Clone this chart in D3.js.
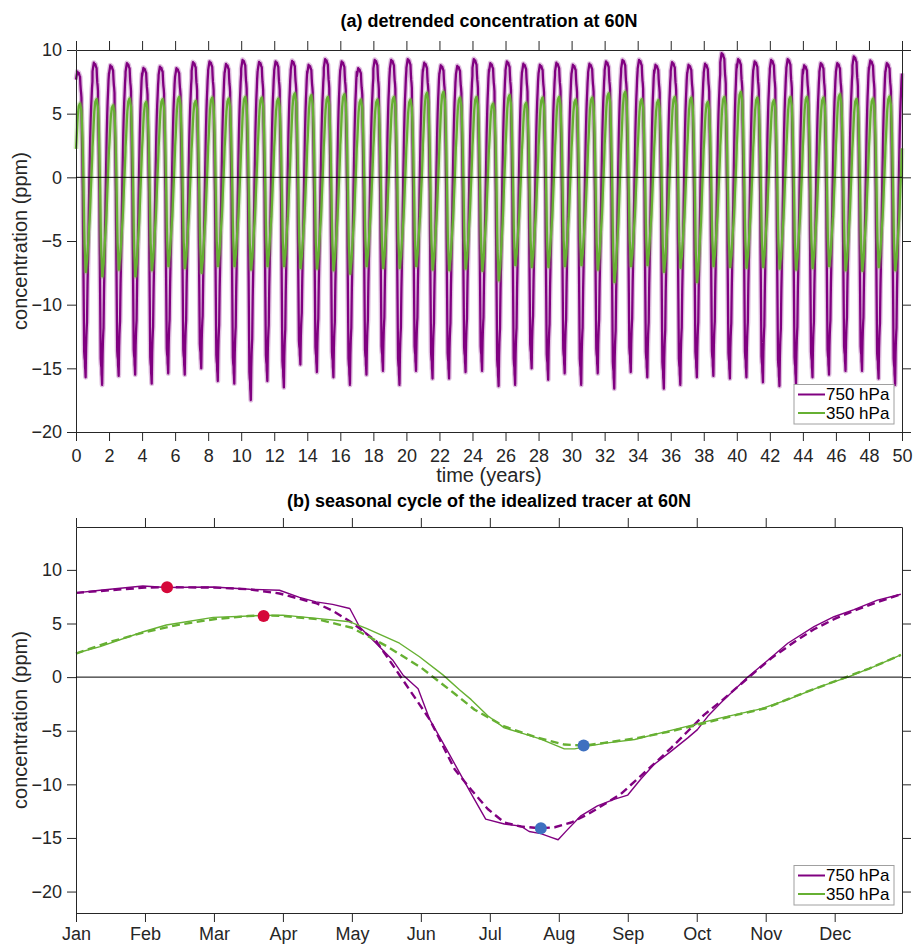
<!DOCTYPE html>
<html>
<head>
<meta charset="utf-8">
<script src="https://cdn.jsdelivr.net/npm/d3@7"></script>
<style>
  body { margin: 0; background: #fff; }
  svg text { font-family: "Liberation Sans", Arial, Helvetica, sans-serif; }
  .axis path, .axis line { stroke: #262626; stroke-width: 1; }
  .axis text { fill: #262626; font-size: 18px; }
</style>
</head>
<body>
<div id="chart"></div>
<script>
// panel (a): yearly maximum / minimum of each level
var peak750 = [8.3, 9.0, 8.8, 8.97, 8.6, 8.7, 8.57, 9.05, 9.1, 8.9,
               9.23, 9.07, 9.1, 9.15, 8.84, 9.29, 9.1, 8.57, 9.23, 9.23,
               9.29, 9.0, 8.8, 8.76, 9.29, 8.97, 9.1, 8.92, 8.84, 9.0,
               8.84, 8.92, 9.1, 9.23, 9.23, 8.84, 9.05, 8.84, 8.92, 9.76,
               9.29, 9.1, 9.23, 9.29, 8.8, 8.97, 8.97, 9.5, 9.18, 8.97];
var trough750 = [-15.7, -16.3, -15.6, -15.5, -16.2, -15.4, -15.5, -15.0, -16.0, -16.2,
                 -17.5, -16.0, -16.5, -14.7, -15.3, -15.7, -16.3, -15.5, -15.2, -16.3,
                 -15.2, -15.8, -15.8, -15.3, -15.2, -16.4, -16.3, -15.0, -15.9, -15.4,
                 -16.3, -15.4, -16.6, -15.3, -15.7, -16.6, -16.3, -15.7, -15.6, -15.8,
                 -15.7, -16.1, -16.4, -16.2, -15.7, -15.5, -15.2, -15.2, -15.8, -16.3];
var peak350 = [5.8, 6.14, 5.66, 6.19, 5.93, 6.14, 6.32, 6.0, 6.27, 6.19,
               6.32, 6.27, 6.19, 6.6, 6.46, 6.32, 6.53, 6.11, 6.11, 6.32,
               6.11, 6.64, 6.72, 6.27, 6.32, 5.8, 6.46, 5.85, 6.27, 6.32,
               6.11, 6.27, 6.6, 6.72, 6.14, 6.06, 6.32, 6.27, 5.93, 6.32,
               6.72, 6.27, 6.06, 6.32, 6.32, 6.27, 6.53, 6.16, 6.19, 6.35];
var trough350 = [-7.43, -7.78, -7.25, -7.78, -7.3, -6.98, -7.12, -7.5, -6.98, -6.98,
                 -7.25, -6.98, -6.98, -7.12, -7.17, -7.3, -7.57, -6.98, -7.12, -7.12,
                 -6.98, -7.25, -7.3, -7.17, -7.35, -8.1, -6.9, -7.04, -7.04, -6.98,
                 -6.9, -7.25, -8.23, -6.98, -6.9, -7.43, -7.1, -8.23, -6.98, -7.04,
                 -7.1, -7.04, -7.17, -7.25, -7.12, -6.98, -7.3, -7.35, -7.04, -7.3];
var yearTicks = [0, 2, 4, 6, 8, 10, 12, 14, 16, 18, 20, 22, 24, 26, 28, 30, 32, 34,
                 36, 38, 40, 42, 44, 46, 48, 50];

// panel (b): seasonal cycle, x in months after 1 Jan
var months750 = [0, 0.35, 0.97, 1.31, 1.99, 2.52, 2.95, 3.24, 3.48, 3.72, 3.97, 4.11,
                 4.35, 4.59, 4.74, 4.96, 5.13, 5.37, 5.56, 5.75, 5.94, 6.21, 6.45, 6.57,
                 6.74, 6.89, 6.99, 7.13, 7.32, 7.56, 7.8, 8.0, 8.19, 8.38, 8.63, 8.87,
                 9.01, 9.16, 9.35, 9.74, 9.98, 10.32, 10.7, 10.99, 11.28, 11.62, 11.96];
var cycle750 = [7.86, 8.1, 8.5, 8.36, 8.4, 8.2, 8.1, 7.43, 7.02, 6.78, 6.4, 4.7,
                3.16, 1.6, 0.2, -1.08, -3.97, -6.7, -8.9, -11.1, -13.25, -13.7, -13.9, -14.4,
                -14.6, -14.95, -15.17, -14.2, -12.94, -12.0, -11.4, -11.0, -9.5, -8.15, -6.9, -5.67,
                -4.9, -3.66, -2.4, 0.0, 1.3, 3.16, 4.7, 5.63, 6.3, 7.18, 7.73];
var monthsFit750 = [0, 0.5, 1.0, 1.32, 2.0, 2.5, 2.95, 3.49, 3.72, 4.02,
                    4.36, 4.69, 5.13, 5.49, 5.73, 5.97, 6.21, 6.45, 6.73, 6.94,
                    7.18, 7.42, 7.66, 7.9, 8.14, 8.38, 8.63, 8.87, 9.11, 9.35,
                    9.74, 10.08, 10.42, 10.7, 10.99, 11.28, 11.62, 11.96];
var fit750 = [7.86, 8.1, 8.35, 8.38, 8.35, 8.2, 7.8, 6.87, 6.2, 5.0,
              3.3, 0.2, -3.97, -8.6, -10.5, -12.3, -13.56, -13.93, -14.1, -14.0,
              -13.56, -12.8, -11.86, -10.9, -9.5, -8.1, -6.6, -5.05, -3.5, -2.26,
              -0.1, 1.76, 3.3, 4.46, 5.4, 6.2, 7.0, 7.73];
var months350 = [0, 0.35, 0.975, 1.31, 1.99, 2.71, 3.0, 3.49, 3.97, 4.21,
                 4.69, 4.98, 5.32, 5.56, 5.73, 5.97, 6.21, 6.45, 6.73, 7.08,
                 7.23, 7.42, 7.71, 8.1, 8.48, 8.96, 9.35, 9.93, 10.32, 10.8,
                 11.19, 11.57, 11.96];
var cycle350 = [2.23, 2.84, 4.23, 4.86, 5.57, 5.75, 5.78, 5.48, 5.16, 4.55,
                3.16, 1.9, 0.21, -1.18, -2.1, -3.6, -4.74, -5.2, -5.76, -6.69,
                -6.69, -6.44, -6.13, -5.82, -5.2, -4.43, -3.8, -2.96, -2.1, -0.87,
                0, 0.98, 2.07];
var monthsFit350 = [0, 0.5, 1.0, 1.5, 2.0, 2.5, 2.75, 3.0, 3.5, 4.0,
                    4.5, 5.0, 5.5, 5.78, 6.21, 6.7, 7.08, 7.37, 7.66, 8.15,
                    8.63, 9.11, 9.59, 10.0, 10.5, 11.0, 11.5, 11.96];
var fit350 = [2.2, 3.3, 4.2, 4.9, 5.4, 5.7, 5.75, 5.7, 5.4, 4.6,
              2.9, 0.9, -1.6, -3.04, -4.6, -5.67, -6.29, -6.38, -6.13, -5.67,
              -5.05, -4.3, -3.5, -2.9, -1.6, -0.4, 0.8, 2.07];
var monthLabels = ["Jan", "Feb", "Mar", "Apr", "May", "Jun",
                   "Jul", "Aug", "Sep", "Oct", "Nov", "Dec"];

// fitted maxima (red) and minima (blue)
var dotMonths = [1.32, 2.72, 6.74, 7.36];
var dotValues = [8.38, 5.69, -14.1, -6.38];
var dotKinds = ["max", "max", "min", "min"];

var concTicks = [-20, -15, -10, -5, 0, 5, 10];
var seriesNames = ["750 hPa", "350 hPa"];

var colors = {
    p750: "#800080",
    p350: "#66b032",
    max: "#d5083a",
    min: "#3e70c0"
};

var svg = d3.select("#chart").append("svg")
    .attr("width", 915)
    .attr("height", 944);

var plotLeft = 76, plotRight = 902;

function drawFrame(g, x, y, xTicks, xFormat, yTicks, labelPad) {
    var top = y.range()[1], bottom = y.range()[0];

    g.append("g").attr("class", "axis")
        .attr("transform", "translate(0," + bottom + ")")
        .call(d3.axisBottom(x).tickValues(xTicks).tickFormat(xFormat)
            .tickSize(9).tickSizeOuter(0).tickPadding(labelPad));
    g.append("g").attr("class", "axis")
        .attr("transform", "translate(0," + top + ")")
        .call(d3.axisTop(x).tickValues(xTicks).tickFormat("")
            .tickSize(9).tickSizeOuter(0));
    g.append("g").attr("class", "axis")
        .attr("transform", "translate(" + plotLeft + ",0)")
        .call(d3.axisLeft(y).tickValues(yTicks).tickFormat(d3.format("d"))
            .tickSize(9).tickSizeOuter(0).tickPadding(5));
    g.append("g").attr("class", "axis")
        .attr("transform", "translate(" + plotRight + ",0)")
        .call(d3.axisRight(y).tickValues(yTicks).tickFormat("")
            .tickSize(9).tickSizeOuter(0));

    // zero line
    g.append("line")
        .attr("x1", plotLeft).attr("x2", plotRight)
        .attr("y1", y(0)).attr("y2", y(0))
        .attr("stroke", "#000").attr("stroke-width", 1);
}

function drawLabels(g, title, titleY, yMid) {
    g.append("text")
        .attr("x", (plotLeft + plotRight) / 2)
        .attr("y", titleY)
        .attr("text-anchor", "middle")
        .style("font-size", "18px")
        .style("font-weight", "bold")
        .attr("fill", "#000")
        .text(title);

    g.append("text")
        .attr("transform", "translate(27," + yMid + ") rotate(-90)")
        .attr("text-anchor", "middle")
        .style("font-size", "20px")
        .attr("fill", "#262626")
        .text("concentration (ppm)");
}

function drawLegend(g, bottom) {
    var w = 100, h = 39.5;
    var left = plotRight - 8 - w, top = bottom - 8 - h;
    var lg = g.append("g").attr("transform", "translate(" + left + "," + top + ")");

    lg.append("rect")
        .attr("width", w).attr("height", h)
        .attr("fill", "#fff")
        .attr("stroke", "#a0a0a0")
        .attr("stroke-width", 1);

    var rows = lg.selectAll("g.row")
        .data(seriesNames)
        .enter()
        .append("g")
        .attr("class", "row")
        .attr("transform", function(d, i) { return "translate(0," + (10 + i * 18.5) + ")"; });

    rows.append("line")
        .attr("x1", 4).attr("x2", 31)
        .attr("stroke", function(d, i) { return i === 0 ? colors.p750 : colors.p350; })
        .attr("stroke-width", 2);

    rows.append("text")
        .attr("x", 32)
        .attr("dy", "0.35em")
        .style("font-size", "17px")
        .attr("fill", "#000")
        .text(function(d) { return d; });
}

// one seasonal shape per year, stretched to that year's max and min
function yearlyTrace(months, cycle, peaks, troughs) {
    var hi = d3.max(cycle), lo = d3.min(cycle);
    var pts = [];
    peaks.forEach(function(pk, i) {
        months.forEach(function(m, j) {
            var v = cycle[j];
            pts.push([i + m / 12, v >= 0 ? v * pk / hi : v * troughs[i] / lo]);
        });
    });
    return pts;
}

/* ---------- panel (a) ---------- */
var ga = svg.append("g");
var xa = d3.scaleLinear().domain([0, 50]).range([plotLeft, plotRight]);
var ya = d3.scaleLinear().domain([-20, 10]).range([432, 50]);

var lineA = d3.line()
    .x(function(d) { return xa(d[0]); })
    .y(function(d) { return ya(d[1]); });

var traceA = [
    {key: "p750", pts: yearlyTrace(months750, cycle750, peak750, trough750)},
    {key: "p350", pts: yearlyTrace(months350, cycle350, peak350, trough350)}
];

traceA.forEach(function(t) {
    ga.append("path")
        .attr("d", lineA(t.pts))
        .attr("fill", "none")
        .attr("stroke", colors[t.key])
        .attr("stroke-opacity", 0.25)
        .attr("stroke-width", 5)
        .attr("stroke-linejoin", "round");
    ga.append("path")
        .attr("d", lineA(t.pts))
        .attr("fill", "none")
        .attr("stroke", colors[t.key])
        .attr("stroke-width", 2.3)
        .attr("stroke-linejoin", "round");
});

drawFrame(ga, xa, ya, yearTicks, d3.format("d"), concTicks, 8);
drawLabels(ga, "(a) detrended concentration at 60N", 27, 241);

ga.append("text")
    .attr("x", (plotLeft + plotRight) / 2)
    .attr("y", 482)
    .attr("text-anchor", "middle")
    .style("font-size", "20px")
    .attr("fill", "#262626")
    .text("time (years)");

drawLegend(ga, 432);

/* ---------- panel (b) ---------- */
var gb = svg.append("g");
var xb = d3.scaleLinear().domain([0, 11.976]).range([plotLeft, plotRight]);
var yb = d3.scaleLinear().domain([-22, 14]).range([913, 527]);

var lineB = d3.line()
    .x(function(d) { return xb(d[0]); })
    .y(function(d) { return yb(d[1]); });

var cycles = [
    {key: "p750", m: months750, v: cycle750, dashed: false},
    {key: "p750", m: monthsFit750, v: fit750, dashed: true},
    {key: "p350", m: months350, v: cycle350, dashed: false},
    {key: "p350", m: monthsFit350, v: fit350, dashed: true}
];

cycles.forEach(function(c) {
    var pts = c.m.map(function(m, i) { return [m, c.v[i]]; });
    gb.append("path")
        .attr("d", lineB(pts))
        .attr("fill", "none")
        .attr("stroke", colors[c.key])
        .attr("stroke-width", c.dashed ? 2.4 : 1.4)
        .attr("stroke-dasharray", c.dashed ? "8,4.5" : null)
        .attr("stroke-linejoin", "round");
});

gb.selectAll("circle.extreme")
    .data(dotMonths)
    .enter()
    .append("circle")
    .attr("class", "extreme")
    .attr("cx", function(d) { return xb(d); })
    .attr("cy", function(d, i) { return yb(dotValues[i]); })
    .attr("r", 6)
    .attr("fill", function(d, i) { return colors[dotKinds[i]]; });

drawFrame(gb, xb, yb, d3.range(12), function(d) { return monthLabels[d]; }, concTicks, 5);
drawLabels(gb, "(b) seasonal cycle of the idealized tracer at 60N", 507, 720);
drawLegend(gb, 913);
</script>
</body>
</html>
